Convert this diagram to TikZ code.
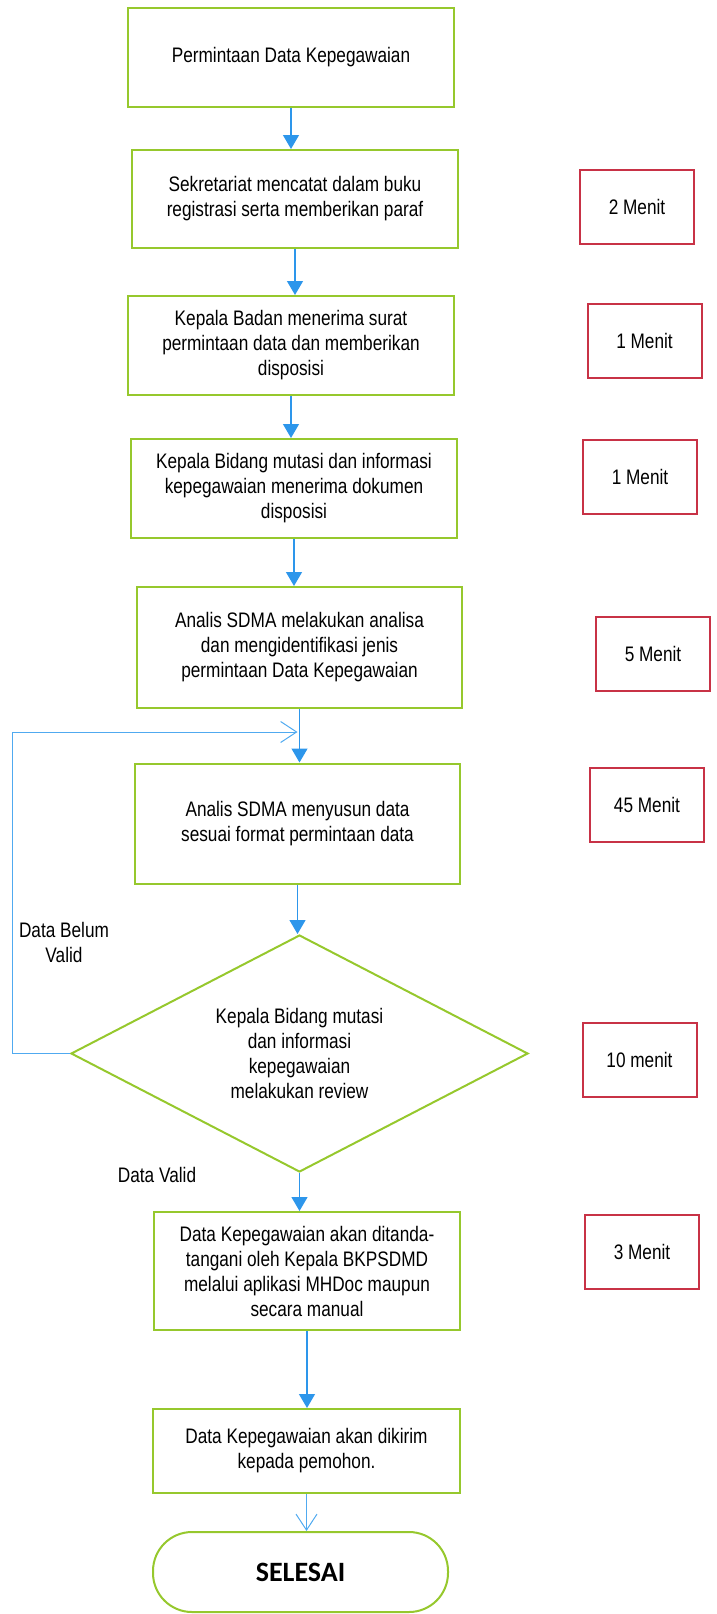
\documentclass[tikz,border=0pt]{standalone}
\usepackage{fontspec}
\setmainfont{Liberation Sans}[FakeStretch=0.82]
\newfontfamily\carlito{Carlito}
\usetikzlibrary{shapes.geometric,arrows.meta}
\definecolor{boxgreen}{RGB}{150,200,45}
\definecolor{boxred}{RGB}{200,50,70}
\definecolor{arrblue}{RGB}{45,150,235}
\definecolor{loopblue}{RGB}{80,170,240}
\begin{document}
\begin{tikzpicture}[x=1pt,y=-1pt,
  every node/.style={font=\fontsize{21}{25}\selectfont},
  stepbox/.style={draw=boxgreen,line width=2pt,inner sep=0pt,align=center},
  timebox/.style={draw=boxred,line width=2pt,minimum width=114pt,minimum height=74pt,inner sep=0pt},
  flow/.style={draw=arrblue,line width=1.3pt,-{Triangle[length=14pt,width=16pt]}},
  openflow/.style={draw=loopblue,line width=1pt,-{Straight Barb[length=16pt,width=21pt]}}
]
\useasboundingbox (0,0) rectangle (717,1614);

\node[stepbox,minimum width=326pt,minimum height=99pt] (b1) at (291,57.5) {Permintaan Data Kepegawaian};
\node[stepbox,minimum width=326pt,minimum height=98pt] (b2) at (295,199) {Sekretariat mencatat dalam buku\\registrasi serta memberikan paraf};
\node[stepbox,minimum width=326pt,minimum height=99pt] (b3) at (291,345.5) {Kepala Badan menerima surat\\permintaan data dan memberikan\\disposisi};
\node[stepbox,minimum width=326pt,minimum height=99pt] (b4) at (294,488.5) {Kepala Bidang mutasi dan informasi\\kepegawaian menerima dokumen\\disposisi};
\node[stepbox,minimum width=325pt,minimum height=121pt] (b5) at (299.5,647.5) {Analis SDMA melakukan analisa\\dan mengidentifikasi jenis\\permintaan Data Kepegawaian};
\node[stepbox,minimum width=325pt,minimum height=120pt] (b6) at (297.5,823.5) {Analis SDMA menyusun data\\sesuai format permintaan data};
\node[diamond,draw=boxgreen,line width=2pt,inner sep=0pt,align=center,shape aspect=1.93,minimum width=457pt,minimum height=237pt] (rev) at (299.5,1053.5) {Kepala Bidang mutasi\\dan informasi\\kepegawaian\\melakukan review};
\node[stepbox,minimum width=306pt,minimum height=118pt] (b7) at (307,1271) {Data Kepegawaian akan ditanda-\\tangani oleh Kepala BKPSDMD\\melalui aplikasi MHDoc maupun\\secara manual};
\node[stepbox,minimum width=307pt,minimum height=84pt] (b8) at (306.5,1451) {Data Kepegawaian akan dikirim\\kepada pemohon.};
\node[draw=boxgreen,line width=2pt,rounded corners=39pt,minimum width=295pt,minimum height=80pt,inner sep=0pt,font=\carlito\bfseries\fontsize{28}{30}\selectfont] (end) at (300.5,1572) {SELESAI};

\node[timebox] (t1) at (637,206.5) {2 Menit};
\node[timebox] (t2) at (644.5,341) {1 Menit};
\node[timebox] (t3) at (640,476.5) {1 Menit};
\node[timebox] (t4) at (653,653.5) {5 Menit};
\node[timebox] (t5) at (647,805) {45 Menit};
\node[timebox] (t6) at (639.5,1060) {10 menit};
\node[timebox] (t7) at (642,1252) {3 Menit};

\node[align=center] (nbv) at (64,942) {Data Belum\\Valid};
\node (nv) at (157,1175) {Data Valid};

\draw[flow] (b1.south) -- (b1.south |- b2.north);
\draw[flow] (b2.south) -- (b2.south |- b3.north);
\draw[flow] (b3.south) -- (b3.south |- b4.north);
\draw[flow] (b4.south) -- (b4.south |- b5.north);
\draw[flow] (b5.south) -- (b5.south |- b6.north);
\draw[flow] (b6.south) -- (b6.south |- rev.north);
\draw[flow] (rev.south) -- (rev.south |- b7.north);
\draw[flow] (b7.south) -- (b7.south |- b8.north);
\draw[openflow] (b8.south) -- (b8.south |- end.north);

\coordinate (lp) at (12,732);
\draw[openflow] (rev.west) -| (lp) -- (lp -| b6.north);
\end{tikzpicture}
\end{document}
